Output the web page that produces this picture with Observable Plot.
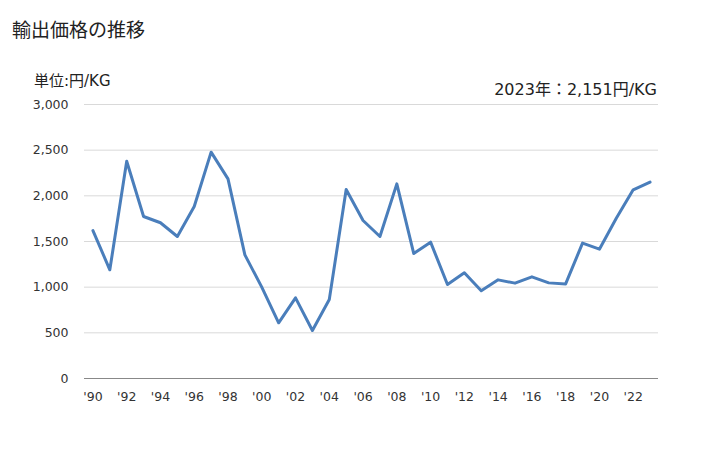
<!DOCTYPE html>
<html>
<head>
<meta charset="utf-8">
<script src="https://cdn.jsdelivr.net/npm/d3@7"></script>
<script src="https://cdn.jsdelivr.net/npm/@observablehq/plot@0.6"></script>
<style>
  html, body { margin: 0; padding: 0; background: #fff; }
  #wrap { position: relative; width: 728px; height: 450px; font-family: "DejaVu Sans", "Noto Sans CJK JP", sans-serif; color: #222; }
  .lbl { position: absolute; white-space: nowrap; }
</style>
</head>
<body>
<div id="wrap">
  <div class="lbl" id="title" style="left:12px; top:15px; font-size:19px; font-family:'Noto Sans CJK JP','DejaVu Sans',sans-serif;">輸出価格の推移</div>
  <div class="lbl" id="unit" style="left:34px; top:69px; font-size:15px;">単位:円/KG</div>
  <div class="lbl" id="latest" style="right:71px; top:76px; font-size:16px;">2023年：2,151円/KG</div>
</div>
<script>
const years = [1990,1991,1992,1993,1994,1995,1996,1997,1998,1999,2000,2001,2002,2003,2004,2005,2006,2007,2008,2009,2010,2011,2012,2013,2014,2015,2016,2017,2018,2019,2020,2021,2022,2023];
const values = [1620,1190,2379,1774,1705,1555,1883,2478,2186,1354,1000,610,883,525,865,2069,1730,1555,2131,1369,1493,1029,1157,960,1080,1044,1113,1047,1036,1482,1416,1755,2066,2151];
const yTicks = [0,500,1000,1500,2000,2500,3000];
const xTicks = [1990,1992,1994,1996,1998,2000,2002,2004,2006,2008,2010,2012,2014,2016,2018,2020,2022];

const data = years.map((y, i) => ({year: y, value: values[i]}));

const chart = Plot.plot({
  width: 728,
  height: 450,
  marginTop: 104,
  marginBottom: 72,
  marginLeft: 84,
  marginRight: 70,
  style: {fontFamily: "'DejaVu Sans', 'Noto Sans CJK JP', sans-serif", fontSize: "12.5px", color: "#333", background: "transparent"},
  x: {domain: [1989.5, 2023.5], ticks: xTicks, tickFormat: d => "'" + String(d).slice(2), tickSize: 0, tickPadding: 14, label: null},
  y: {domain: [0, 3000], ticks: yTicks, tickFormat: d3.format(","), tickSize: 0, tickPadding: 16, label: null},
  marks: [
    Plot.ruleY(yTicks.filter(d => d > 0), {stroke: "#d9d9d9", strokeWidth: 1}),
    Plot.ruleY([0], {stroke: "#888", strokeWidth: 1}),
    Plot.line(data, {x: "year", y: "value", stroke: "#4a7ebb", strokeWidth: 3, strokeLinejoin: "round"})
  ]
});
chart.style.position = "absolute";
chart.style.left = "0px";
chart.style.top = "0px";
document.getElementById("wrap").prepend(chart);
</script>
</body>
</html>
